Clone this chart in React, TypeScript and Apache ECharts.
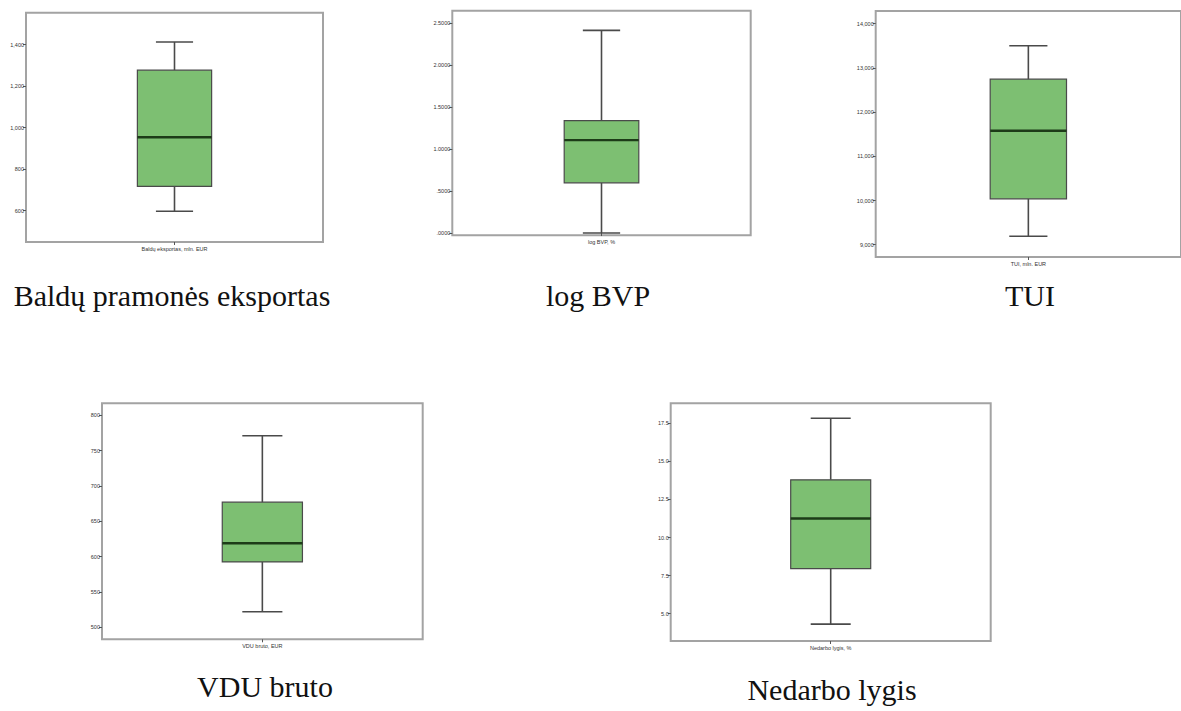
import React, { useEffect, useRef } from "react";
import * as echarts from "echarts";

// Panel titles (captions under each chart) and x-axis variable labels
const captions = ["Baldų pramonės eksportas", "log BVP", "TUI", "VDU bruto", "Nedarbo lygis"];
const xLabels = ["Baldų eksportas, mln. EUR", "log BVP, %", "TUI, mln. EUR", "VDU bruto, EUR", "Nedarbo lygis, %"];

// Box statistics: [min, Q1, median, Q3, max]
const baldaiStats = [597, 717, 954, 1277, 1413];
const bvpStats = [0.0, 0.599, 1.107, 1.34, 2.416];
const tuiStats = [9190, 10038, 11577, 12744, 13502];
const vduStats = [522, 592.5, 619, 677, 771];
const nedarboStats = [4.32, 7.96, 11.25, 13.79, 17.83];

// Y-axis tick values
const baldaiTicks = [600, 800, 1000, 1200, 1400];
const bvpTicks = [0, 0.5, 1.0, 1.5, 2.0, 2.5];
const tuiTicks = [9000, 10000, 11000, 12000, 13000, 14000];
const vduTicks = [500, 550, 600, 650, 700, 750, 800];
const nedarboTicks = [5.0, 7.5, 10.0, 12.5, 15.0, 17.5];

// Axis extents (as in the original SPSS plots)
const baldaiRange = [449, 1554];
const bvpRange = [-0.027, 2.65];
const tuiRange = [8722, 14287];
const vduRange = [483, 817];
const nedarboRange = [3.21, 18.81];

const fmtThousands = (v: number) => Math.round(v).toLocaleString("en-US");
const fmtBvp = (v: number) => {
  const s = v.toFixed(4);
  return s.startsWith("0") ? s.slice(1) : s;
};
const fmtInt = (v: number) => String(Math.round(v));
const fmtOne = (v: number) => v.toFixed(1);

const panels = [
  { stats: baldaiStats, ticks: baldaiTicks, range: baldaiRange, fmt: fmtThousands, grid: { left: 26, top: 12.7, width: 297, height: 229.3 }, cap: { x: 172, y: 295 } },
  { stats: bvpStats, ticks: bvpTicks, range: bvpRange, fmt: fmtBvp, grid: { left: 452.3, top: 10.7, width: 298.4, height: 224.6 }, cap: { x: 598, y: 295 } },
  { stats: tuiStats, ticks: tuiTicks, range: tuiRange, fmt: fmtThousands, grid: { left: 875.7, top: 11, width: 314.6, height: 246 }, cap: { x: 1030, y: 295 } },
  { stats: vduStats, ticks: vduTicks, range: vduRange, fmt: fmtInt, grid: { left: 102, top: 403.3, width: 320.7, height: 236 }, cap: { x: 265, y: 686 } },
  { stats: nedarboStats, ticks: nedarboTicks, range: nedarboRange, fmt: fmtOne, grid: { left: 670.7, top: 403.3, width: 320, height: 237.7 }, cap: { x: 832, y: 689 } },
];

const BOX_FILL = "#7dbf72";
const BOX_EDGE = "#4a4a4a";
const MEDIAN = "#1d3b18";
const FRAME = "#a3a3a3";

export default function App() {
  const ref = useRef<HTMLDivElement>(null);

  useEffect(() => {
    if (!ref.current) return;
    const chart = echarts.init(ref.current, null, { renderer: "svg" });

    const grids = panels.map((p) => ({
      ...p.grid,
      show: true,
      borderColor: FRAME,
      borderWidth: 2,
      backgroundColor: "#ffffff",
      containLabel: false,
    }));

    const xAxes = panels.map((p, i) => ({
      type: "category",
      gridIndex: i,
      data: [xLabels[i]],
      boundaryGap: true,
      axisLine: { show: false },
      axisTick: { show: true, alignWithLabel: true, length: 3, lineStyle: { color: "#555", width: 1 } },
      axisLabel: { fontSize: 5.5, color: "#333", margin: 4, fontFamily: "Liberation Sans" },
      splitLine: { show: false },
    }));

    const yAxes = panels.map((p, i) => ({
      type: "value",
      gridIndex: i,
      min: p.range[0],
      max: p.range[1],
      axisLine: { show: false },
      axisTick: { show: true, length: 3, customValues: p.ticks, lineStyle: { color: "#555", width: 1 } },
      axisLabel: {
        customValues: p.ticks,
        fontSize: 5.5,
        color: "#333",
        margin: 2,
        fontFamily: "Liberation Sans",
        formatter: (v: number) => p.fmt(v),
      },
      splitLine: { show: false },
    }));

    const series = panels.map((p, i) => ({
      type: "custom",
      xAxisIndex: i,
      yAxisIndex: i,
      encode: { x: 0, y: [1, 2, 3, 4, 5] },
      data: [[0, ...p.stats]],
      renderItem: (params: any, api: any) => {
        const x = api.value(0);
        const pMin = api.coord([x, api.value(1)]);
        const pQ1 = api.coord([x, api.value(2)]);
        const pMed = api.coord([x, api.value(3)]);
        const pQ3 = api.coord([x, api.value(4)]);
        const pMax = api.coord([x, api.value(5)]);
        const band = api.size([1, 0])[0];
        const hw = band * 0.125;
        const cw = band * 0.0625;
        const cx = pMed[0];
        const ws = { stroke: BOX_EDGE, lineWidth: 1.6 };
        return {
          type: "group",
          children: [
            { type: "line", shape: { x1: cx, y1: pMax[1], x2: cx, y2: pQ3[1] }, style: ws },
            { type: "line", shape: { x1: cx, y1: pQ1[1], x2: cx, y2: pMin[1] }, style: ws },
            { type: "line", shape: { x1: cx - cw, y1: pMax[1], x2: cx + cw, y2: pMax[1] }, style: ws },
            { type: "line", shape: { x1: cx - cw, y1: pMin[1], x2: cx + cw, y2: pMin[1] }, style: ws },
            {
              type: "rect",
              shape: { x: cx - hw, y: pQ3[1], width: 2 * hw, height: pQ1[1] - pQ3[1] },
              style: { fill: BOX_FILL, stroke: BOX_EDGE, lineWidth: 1.2 },
            },
            { type: "line", shape: { x1: cx - hw, y1: pMed[1], x2: cx + hw, y2: pMed[1] }, style: { stroke: MEDIAN, lineWidth: 2.4 } },
          ],
        };
      },
    }));

    const graphic = panels.map((p, i) => ({
      type: "text",
      x: p.cap.x,
      y: p.cap.y,
      style: {
        text: captions[i],
        fontFamily: "Liberation Serif, Times New Roman, serif",
        fontSize: 30,
        fill: "#111",
        align: "center",
        verticalAlign: "middle",
      },
    }));

    chart.setOption({
      animation: false,
      backgroundColor: "#ffffff",
      grid: grids,
      xAxis: xAxes,
      yAxis: yAxes,
      series,
      graphic,
    } as any);

    return () => chart.dispose();
  }, []);

  return (
    <div
      ref={ref}
      style={{ position: "absolute", left: 0, top: 0, width: 1181, height: 711, overflow: "hidden", background: "#fff" }}
    />
  );
}
